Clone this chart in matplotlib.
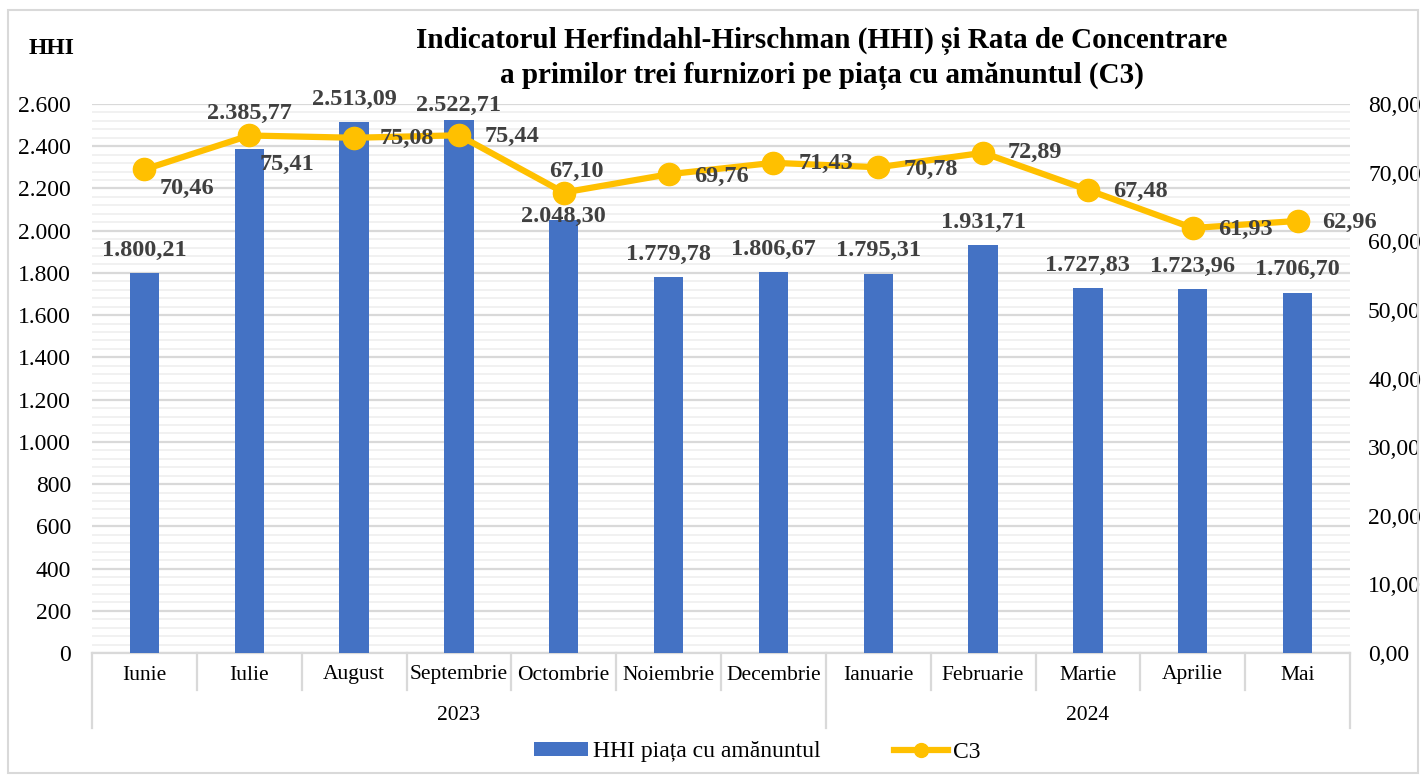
import matplotlib
matplotlib.use('Agg')
import matplotlib.pyplot as plt
from matplotlib.patches import Rectangle, Patch
from matplotlib.lines import Line2D
from matplotlib.transforms import blended_transform_factory
import numpy as np

# ---------------- data ----------------
months = ['Iunie', 'Iulie', 'August', 'Septembrie', 'Octombrie', 'Noiembrie',
          'Decembrie', 'Ianuarie', 'Februarie', 'Martie', 'Aprilie', 'Mai']
years = ['2023', '2024']
year_sizes = [7, 5]
hhi = [1800.21, 2385.77, 2513.09, 2522.71, 2048.30, 1779.78,
       1806.67, 1795.31, 1931.71, 1727.83, 1723.96, 1706.70]
c3 = [70.46, 75.41, 75.08, 75.44, 67.10, 69.76,
      71.43, 70.78, 72.89, 67.48, 61.93, 62.96]

title_l1 = 'Indicatorul Herfindahl-Hirschman (HHI) și Rata de Concentrare'
title_l2 = 'a primilor trei furnizori pe piața cu amănuntul (C3)'
legend_labels = ['HHI piața cu amănuntul', 'C3']

# label offsets (pixels) - styling
bar_lbl_dy = [22, 36, 23, 15, 4, 23, 22, 23, 23, 23, 23, 23]
line_lbl_off = [(43, -19), (38, -29), (53, -1), (53, -1), (13, 21), (53, -2),
                (53, -1), (53, -2), (52, 0), (53, -2), (53, -1), (52, -2)]


def fmt(v, dec=2):
    s = f"{v:,.{dec}f}"
    return s.replace(',', 'X').replace('.', ',').replace('X', '.')


plt.rcParams['font.family'] = ['Liberation Serif', 'DejaVu Serif']

W, H = 1426, 778
fig = plt.figure(figsize=(W / 100, H / 100), dpi=100)
fig.patch.set_facecolor('white')

ax = fig.add_axes([92 / W, 125 / H, 1258 / W, 549 / H])
x = np.arange(len(months))
ax.bar(x, hhi, width=0.28, color='#4472C4', zorder=3)
ax.set_xlim(-0.5, len(months) - 0.5)
ax.set_ylim(0, 2600)
ax.set_yticks(np.arange(0, 2601, 200))
ax.set_yticks(np.arange(0, 2601, 40), minor=True)
ax.yaxis.set_major_formatter(lambda v, p: fmt(v, 0))
ax.grid(axis='y', which='minor', color='#F0F0F0', lw=1.3, zorder=0)
ax.grid(axis='y', which='major', color='#D9D9D9', lw=1.6, zorder=1)
ax.set_axisbelow(True)
ax.tick_params(axis='y', which='both', length=0, labelsize=17, pad=15)
for s in ['left', 'right', 'top']:
    ax.spines[s].set_visible(False)
ax.spines['bottom'].set_color('#D9D9D9')
ax.spines['bottom'].set_linewidth(1.6)
ax.set_xticks(x)
ax.set_xticklabels(months, fontsize=15.5)
ax.tick_params(axis='x', length=0, pad=9)

# category separators
tr = blended_transform_factory(ax.transData, ax.transAxes)
ah = 549.0
group_bounds = [-0.5]
for n in year_sizes:
    group_bounds.append(group_bounds[-1] + n)
for b in np.arange(-0.5, len(months), 1.0):
    bottom = -(75 / ah) if b in group_bounds else -(37 / ah)
    ax.plot([b, b], [0, bottom], color='#D9D9D9', lw=1.6, transform=tr,
            clip_on=False, zorder=1)
for i, yl in enumerate(years):
    cx = (group_bounds[i] + group_bounds[i + 1]) / 2
    ax.text(cx, -(62 / ah), yl, transform=tr, ha='center', va='center',
            fontsize=15.5)

# bar labels
for i, v in enumerate(hhi):
    ax.annotate(fmt(v), (i, v), xytext=(0, bar_lbl_dy[i]),
                textcoords='offset pixels', ha='center', va='center',
                fontsize=17.5, fontweight='bold', color='#404040', zorder=5)

# secondary axis
ax2 = ax.twinx()
ax2.set_ylim(0, 80)
ax2.set_yticks(np.arange(0, 81, 10))
ax2.yaxis.set_major_formatter(lambda v, p: fmt(v, 2))
ax2.tick_params(axis='y', length=0, labelsize=17, pad=13)
for s in ['left', 'right', 'top', 'bottom']:
    ax2.spines[s].set_visible(False)
ax2.plot(x, c3, color='#FFC000', lw=4.5, marker='o', ms=16,
         solid_capstyle='round', zorder=4)
for i, v in enumerate(c3):
    dx, dy = line_lbl_off[i]
    ax2.annotate(fmt(v), (i, v), xytext=(dx, dy), textcoords='offset pixels',
                 ha='center', va='center', fontsize=17.5, fontweight='bold',
                 color='#404040', zorder=5)

# titles
fig.text(52 / W, 1 - 48 / H, 'HHI', ha='center', va='center', fontsize=17,
         fontweight='bold')
fig.text(822 / W, 1 - 41 / H, title_l1, ha='center', va='center',
         fontsize=21, fontweight='bold')
fig.text(822 / W, 1 - 76 / H, title_l2, ha='center', va='center',
         fontsize=21, fontweight='bold')

# legend
handles = [Patch(facecolor='#4472C4', edgecolor='none'),
           Line2D([], [], color='#FFC000', lw=4.5, marker='o', ms=10)]
fig.legend(handles, legend_labels, loc='center',
           bbox_to_anchor=(757 / W, 26 / H), ncol=2, frameon=False,
           fontsize=17, handlelength=2.3, handleheight=0.5,
           columnspacing=3.1, handletextpad=0.2)

# outer border
fig.patches.append(Rectangle((8 / W, 5 / H), (1418 - 8) / W, (768 - 5) / H,
                             transform=fig.transFigure, fill=False,
                             ec='#D9D9D9', lw=1.5))

fig.savefig('out.png', dpi=100)
